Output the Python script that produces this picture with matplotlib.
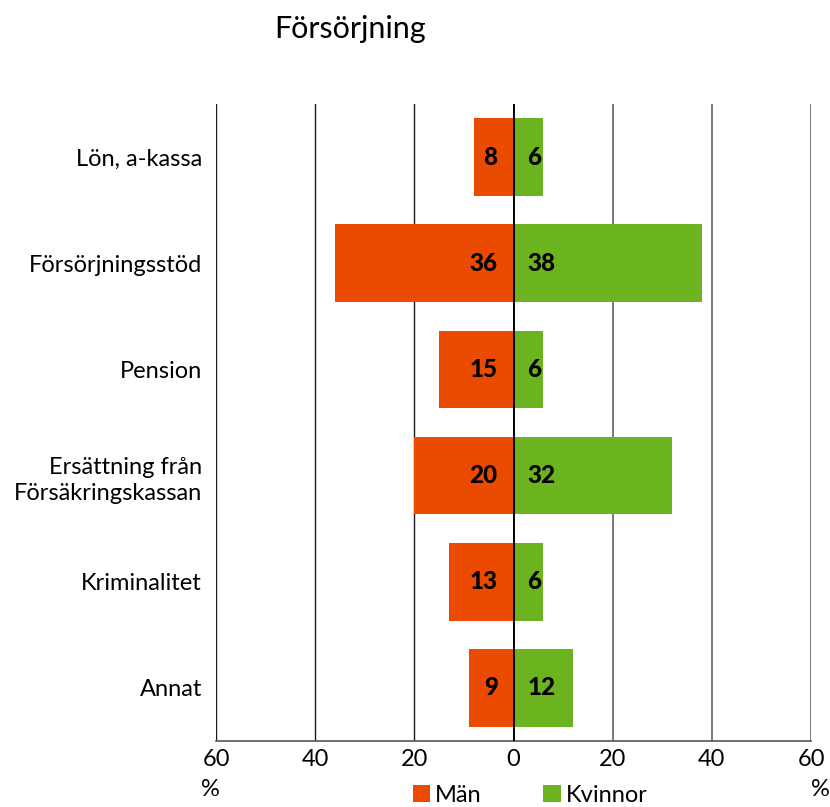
import numpy as np
import matplotlib.pyplot as plt

plt.rcParams['font.family'] = ['Lato', 'DejaVu Sans']

# Andel (%) per försörjningskälla
kategorier = ['Lön, a-kassa', 'Försörjningsstöd', 'Pension',
              'Ersättning från\nFörsäkringskassan', 'Kriminalitet', 'Annat']
man = [8, 36, 15, 20, 13, 9]
kvinnor = [6, 38, 6, 32, 6, 12]

farg_man = '#EB4B00'
farg_kvinnor = '#6BB31F'

fig = plt.figure(figsize=(8.3, 8.07), dpi=100)
ax = fig.add_axes([216 / 830, 1 - 741 / 807, 595 / 830, 637 / 807])

y = np.arange(len(kategorier))
ax.barh(y, [-v for v in man], height=0.73, color=farg_man, zorder=2, label='Män')
ax.barh(y, kvinnor, height=0.73, color=farg_kvinnor, zorder=2, label='Kvinnor')

# stödlinjer, vänster sida mörkare än höger
for x in (-60, -40, -20):
    ax.axvline(x, color='#1a1a1a', lw=1.0, zorder=1)
for x in (20, 40, 60):
    ax.axvline(x, color='#6e6e6e', lw=1.3, zorder=1)
ax.axvline(0, color='black', lw=1.4, zorder=3)

for i, (m, k) in enumerate(zip(man, kvinnor)):
    ax.text(-3.2, i, str(m), ha='right', va='center', fontsize=17.5,
            fontweight='black', zorder=4)
    ax.text(2.8, i, str(k), ha='left', va='center', fontsize=17.5,
            fontweight='black', zorder=4)

ax.set_xlim(-60, 60)
ax.set_ylim(len(kategorier) - 0.5, -0.5)
ticks = [-60, -40, -20, 0, 20, 40, 60]
ax.set_xticks(ticks)
ax.set_xticklabels([str(abs(t)) for t in ticks], fontsize=17)
ax.set_yticks(y)
ax.set_yticklabels(kategorier, fontsize=17, linespacing=1.3)
ax.tick_params(axis='y', length=0, pad=10)
ax.tick_params(axis='x', length=0, pad=6)

for s in ('top', 'left', 'right'):
    ax.spines[s].set_visible(False)
ax.spines['bottom'].set_color('#555555')
ax.spines['bottom'].set_linewidth(1.2)

fig.text(210 / 830, 1 - 789 / 807, '%', ha='center', va='center', fontsize=17)
fig.text(820 / 830, 1 - 789 / 807, '%', ha='center', va='center', fontsize=17)

fig.text(350 / 830, 1 - 29 / 807, 'Försörjning', ha='center', va='center', fontsize=22)

fig.legend(loc='center', bbox_to_anchor=(530 / 830, 1 - 795 / 807), ncol=2,
           frameon=False, fontsize=17, handlelength=0.75, handleheight=0.75,
           handletextpad=0.2, columnspacing=2.6, borderpad=0)

fig.savefig('out.png', dpi=100)
